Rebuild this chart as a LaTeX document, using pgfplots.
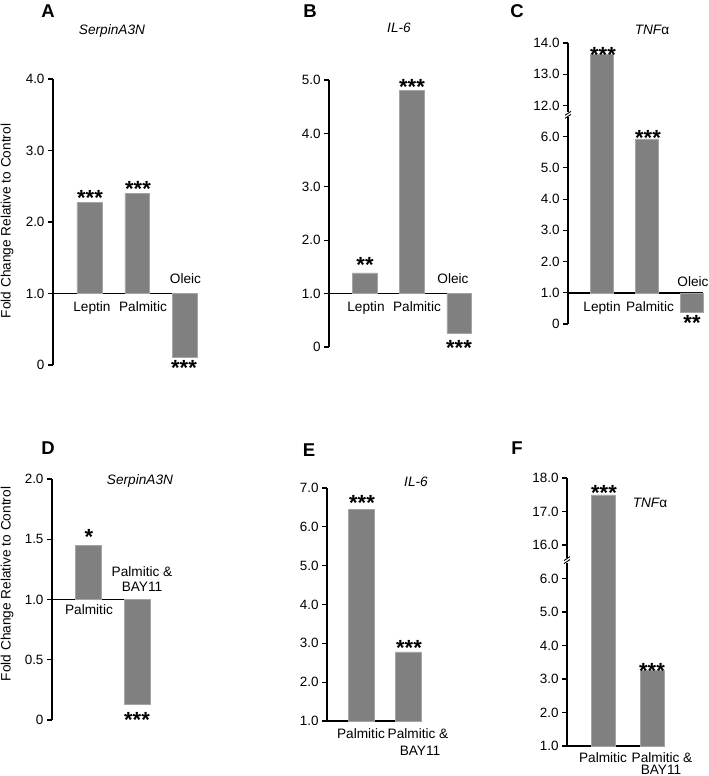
\documentclass[border=0pt]{standalone}
\usepackage{fontspec}
\setmainfont{Liberation Sans}
\usepackage{pgfplots}
\pgfplotsset{compat=1.18}
\definecolor{bargray}{RGB}{128,128,128}
\definecolor{baredge}{RGB}{165,165,165}
\pgfplotsset{
  panel/.style={
    scale only axis,
    anchor=south west,
    axis x line=middle,
    axis y line=left,
    axis line style={-, line width=1.5bp, black},
    xtick=\empty,
    tick align=outside,
    major tick length=5bp,
    ytick style={line width=1.1bp, black},
    tick label style={font=\fontsize{13.5}{14}\selectfont},
    /pgf/number format/assume math mode=true,
    ybar, bar shift=0pt,
    clip=false,
  },
  barstyle/.style={fill=bargray, draw=baredge, line width=0.5bp},
}
\tikzset{
  lab/.style={font=\fontsize{13.7}{15}\selectfont, anchor=base, inner sep=0pt},
  ttl/.style={font=\fontsize{13.7}{15}\selectfont\itshape, anchor=base, inner sep=0pt},
  let/.style={font=\fontsize{18.6}{20}\selectfont\bfseries, anchor=base, inner sep=0pt},
  star/.style={font=\fontsize{22}{22}\selectfont\bfseries, anchor=base, inner sep=0pt, yshift=-12.8bp},
  ylab/.style={font=\fontsize{13.7}{15}\selectfont, rotate=90, inner sep=0pt},
  brk/.style={line width=0.9bp},
}
\begin{document}
\begin{tikzpicture}
\useasboundingbox (0,0) rectangle (709bp,776bp);

% ---------- A ----------
\begin{axis}[panel, at={(53bp,411bp)}, width=144bp, height=286bp,
  xmin=0.24, xmax=3.25, ymin=-1, ymax=3,
  ytick={-1,0,1,2,3}, yticklabels={0,1.0,2.0,3.0,4.0},
  bar width=0.52, y filter/.expression={y-1}]
\addplot[barstyle] coordinates {(1,2.27) (2,2.40) (3,0.11)};
\end{axis}
\node[let] at (48bp,758bp) {A};
\node[ttl] at (112bp,741bp) {SerpinA3N};
\node[ylab] at (7bp,555bp) {Fold Change Relative to Control};
\node[lab] at (92bp,464bp) {Leptin};
\node[lab] at (143bp,464bp) {Palmitic};
\node[lab] at (185.5bp,492bp) {Oleic};
\node[star] at (90bp,583bp) {***};
\node[star] at (138bp,592bp) {***};
\node[star] at (184bp,413bp) {***};

% ---------- B ----------
\begin{axis}[panel, at={(329bp,429bp)}, width=142bp, height=267bp,
  xmin=0.25, xmax=3.25, ymin=-1, ymax=4,
  ytick={-1,0,1,2,3,4}, yticklabels={0,1.0,2.0,3.0,4.0,5.0},
  bar width=0.52, y filter/.expression={y-1}]
\addplot[barstyle] coordinates {(1,1.39) (2,4.81) (3,0.25)};
\end{axis}
\node[let] at (310bp,758bp) {B};
\node[ttl] at (399bp,743bp) {IL-6};
\node[lab] at (366bp,464bp) {Leptin};
\node[lab] at (417bp,464bp) {Palmitic};
\node[lab] at (453bp,492bp) {Oleic};
\node[star] at (365bp,516bp) {**};
\node[star] at (412bp,694bp) {***};
\node[star] at (459bp,433bp) {***};

% ---------- C ----------
\begin{axis}[panel, at={(568bp,452bp)}, width=135bp, height=281bp,
  xmin=0.245, xmax=3.25, ymin=-1, ymax=8,
  ytick={-1,0,1,2,3,4,5,6,7,8},
  yticklabels={0,1.0,2.0,3.0,4.0,5.0,6.0,12.0,13.0,14.0},
  bar width=0.5, y filter/.expression={y>9 ? y-6 : y-1}]
\addplot[barstyle] coordinates {(1,13.63) (2,5.93) (3,0.39)};
\fill[white] (axis cs:0.245,5.70) ++(-2.5bp,-2.5bp) rectangle ++(5bp,5bp);
\draw[brk] (axis cs:0.245,5.70) ++(-3bp,-3.5bp) -- ++(6bp,4bp);
\draw[brk] (axis cs:0.245,5.70) ++(-3bp,-0.5bp) -- ++(6bp,4bp);
\end{axis}
\node[let] at (517bp,758bp) {C};
\node[ttl] at (652bp,741bp) {TNF\upshape α};
\node[lab] at (602bp,464bp) {Leptin};
\node[lab] at (650bp,464bp) {Palmitic};
\node[lab] at (693bp,489bp) {Oleic};
\node[star] at (603bp,726bp) {***};
\node[star] at (648bp,643bp) {***};
\node[star] at (692bp,458bp) {**};

% ---------- D ----------
\begin{axis}[panel, at={(52bp,56bp)}, width=98bp, height=241bp,
  xmin=0.25, xmax=2.27, ymin=-1, ymax=1,
  ytick={-1,-0.5,0,0.5,1}, yticklabels={0,0.5,1.0,1.5,2.0},
  bar width=0.53, y filter/.expression={y-1}]
\addplot[barstyle] coordinates {(1,1.45) (2,0.13)};
\end{axis}
\node[let] at (48bp,321bp) {D};
\node[ttl] at (140bp,291bp) {SerpinA3N};
\node[ylab] at (7bp,192bp) {Fold Change Relative to Control};
\node[lab] at (89bp,161bp) {Palmitic};
\node[lab] at (142bp,199bp) {Palmitic \&};
\node[lab] at (142bp,184bp) {BAY11};
\node[star] at (89bp,244bp) {*};
\node[star] at (137bp,61bp) {***};

% ---------- E ----------
\begin{axis}[panel, at={(327bp,55bp)}, width=94bp, height=233bp,
  xmin=0.26, xmax=2.28, ymin=0, ymax=6,
  ytick={0,1,2,3,4,5,6}, yticklabels={1.0,2.0,3.0,4.0,5.0,6.0,7.0},
  bar width=0.55, y filter/.expression={y-1}]
\addplot[barstyle] coordinates {(1,6.44) (2,2.78)};
\end{axis}
\node[let] at (309bp,319bp) {E};
\node[ttl] at (416bp,289bp) {IL-6};
\node[lab] at (361bp,38bp) {Palmitic};
\node[lab] at (418bp,38bp) {Palmitic \&};
\node[lab] at (420bp,21bp) {BAY11};
\node[star] at (362bp,278bp) {***};
\node[star] at (409bp,133bp) {***};

% ---------- F ----------
\begin{axis}[panel, at={(567bp,30bp)}, width=97bp, height=268bp,
  xmin=0.25, xmax=2.25, ymin=0, ymax=8,
  ytick={0,1,2,3,4,5,6,7,8},
  yticklabels={1.0,2.0,3.0,4.0,5.0,6.0,16.0,17.0,18.0},
  bar width=0.49, y filter/.expression={y>10 ? y-10 : y-1}]
\addplot[barstyle] coordinates {(1,17.5) (2,3.27)};
\fill[white] (axis cs:0.25,5.55) ++(-2.5bp,-2.5bp) rectangle ++(5bp,5bp);
\draw[brk] (axis cs:0.25,5.55) ++(-3bp,-3.5bp) -- ++(6bp,4bp);
\draw[brk] (axis cs:0.25,5.55) ++(-3bp,-0.5bp) -- ++(6bp,4bp);
\end{axis}
\node[let] at (517bp,321bp) {F};
\node[ttl] at (650bp,268bp) {TNF\upshape α};
\node[lab] at (603bp,14bp) {Palmitic};
\node[lab] at (662bp,14bp) {Palmitic \&};
\node[lab] at (661bp,1.5bp) {BAY11};
\node[star] at (604bp,288bp) {***};
\node[star] at (652bp,110bp) {***};
\end{tikzpicture}
\end{document}
